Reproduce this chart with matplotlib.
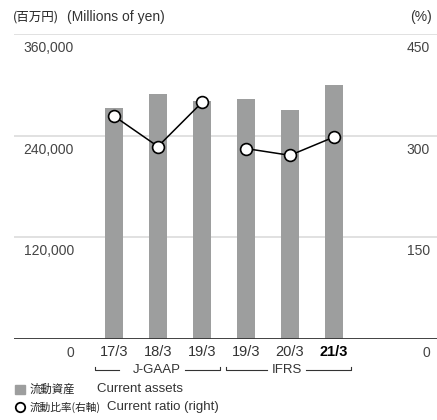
import matplotlib
matplotlib.use('Agg')
import matplotlib.pyplot as plt
from matplotlib.lines import Line2D
from matplotlib.patches import Rectangle
import matplotlib.transforms as mtransforms

plt.rcParams['font.family'] = ['Liberation Sans', 'Noto Sans CJK JP', 'DejaVu Sans']
JP = ['Noto Sans CJK JP', 'DejaVu Sans']

# data
periods = ['17/3', '18/3', '19/3', '19/3', '20/3', '21/3']
current_assets = [272300, 289700, 281400, 282900, 269900, 300300]
current_ratio = [329, 284, 349, 281, 271, 298]
left_ticks = [0, 120000, 240000, 360000]
right_ticks = [0, 150, 300, 450]

W, H = 437, 420
fig = plt.figure(figsize=(W / 100, H / 100), dpi=100)

# axes: y pixel 34 -> top, 339 -> baseline
ax = fig.add_axes([14 / W, (H - 339) / H, 423 / W, 305 / H])
ax2 = ax.twinx()

x = list(range(len(periods)))
ax.bar(x, current_assets, width=0.41, color='#9d9e9e', zorder=2)
ax.set_ylim(0, 360000)
ax.set_xlim(-2.27, 7.34)
ax2.set_ylim(0, 450)

# J-GAAP and IFRS series drawn separately
ax2.plot(x[:3], current_ratio[:3], color='black', lw=1.1, zorder=3)
ax2.plot(x[3:], current_ratio[3:], color='black', lw=1.1, zorder=3)
ax2.plot(x, current_ratio, ls='none', marker='o', ms=8.5, mfc='white',
         mec='black', mew=1.2, zorder=4)

for a in (ax, ax2):
    for s in a.spines.values():
        s.set_visible(False)
    a.set_yticks([])
ax.set_xticks([])

# gridlines
for v in left_ticks[1:]:
    ax.axhline(v, color='#dcdcdc', lw=1.2, zorder=1)
ax.axhline(0, color='#333333', lw=1.3, zorder=5)

# axis labels below gridlines
off = mtransforms.offset_copy(ax.transData, fig=fig, x=0, y=-14, units='dots')
blend_l = mtransforms.blended_transform_factory(fig.transFigure, off)
for v in left_ticks:
    ax.text(74 / W, v, f'{v:,}', transform=blend_l, ha='right', va='center',
            fontsize=10, color='#444444')
off2 = mtransforms.offset_copy(ax2.transData, fig=fig, x=0, y=-14, units='dots')
blend_r = mtransforms.blended_transform_factory(fig.transFigure, off2)
for v in right_ticks:
    ax2.text(430 / W, v, f'{v}', transform=blend_r, ha='right', va='center',
             fontsize=10, color='#444444')

# category labels
for i, lab in enumerate(periods):
    last = i == len(periods) - 1
    ax.text(i, -0.043, lab, transform=ax.get_xaxis_transform(), ha='center',
            va='center', fontsize=10.5, color='black' if last else '#333333',
            fontweight='bold' if last else 'normal')

# brackets
xt = ax.get_xaxis_transform()
yb = (339 - 370) / 305
yt = (339 - 366.5) / 305
def bracket(x0, x1, g0, g1, label, xc):
    ax.plot([x0, x0, g0], [yt, yb, yb], color='#333333', lw=0.8,
            transform=xt, clip_on=False)
    ax.plot([g1, x1, x1], [yb, yb, yt], color='#333333', lw=0.8,
            transform=xt, clip_on=False)
    ax.text(xc, yb, label, transform=xt, ha='center', va='center',
            fontsize=9.5, color='#333333')

bracket(-0.43, 2.41, 0.11, 1.61, 'J-GAAP', 0.98)
bracket(2.55, 5.39, 3.48, 4.36, 'IFRS', 3.93)

# header
fig.text(13 / W, 1 - 17 / H, '(百万円)', ha='left', va='center',
         fontsize=9, color='#222222', family=JP)
fig.text(67 / W, 1 - 17 / H, '(Millions of yen)', ha='left', va='center',
         fontsize=10, color='#333333')
fig.text(432 / W, 1 - 17 / H, '(%)', ha='right', va='center',
         fontsize=10, color='#333333')

# legend
fig.add_artist(Rectangle((15 / W, 1 - 394 / H), 10 / W, 9.5 / H,
                         transform=fig.transFigure, color='#9d9e9e'))
fig.text(29.5 / W, 1 - 389.5 / H, '流動資産', ha='left', va='center',
         fontsize=8.2, color='#222222', family=JP)
fig.text(97 / W, 1 - 389.5 / H, 'Current assets', ha='left', va='center',
         fontsize=9.5, color='#333333')
fig.add_artist(Line2D([20 / W], [1 - 407 / H], marker='o', ms=6.8, mfc='white',
                      mec='black', mew=1.3, transform=fig.transFigure))
fig.text(29.5 / W, 1 - 407 / H, '流動比率(右軸)', ha='left', va='center',
         fontsize=7.7, color='#222222', family=JP)
fig.text(107 / W, 1 - 407 / H, 'Current ratio (right)', ha='left',
         va='center', fontsize=9.5, color='#333333')

fig.savefig('out.png', dpi=100)
